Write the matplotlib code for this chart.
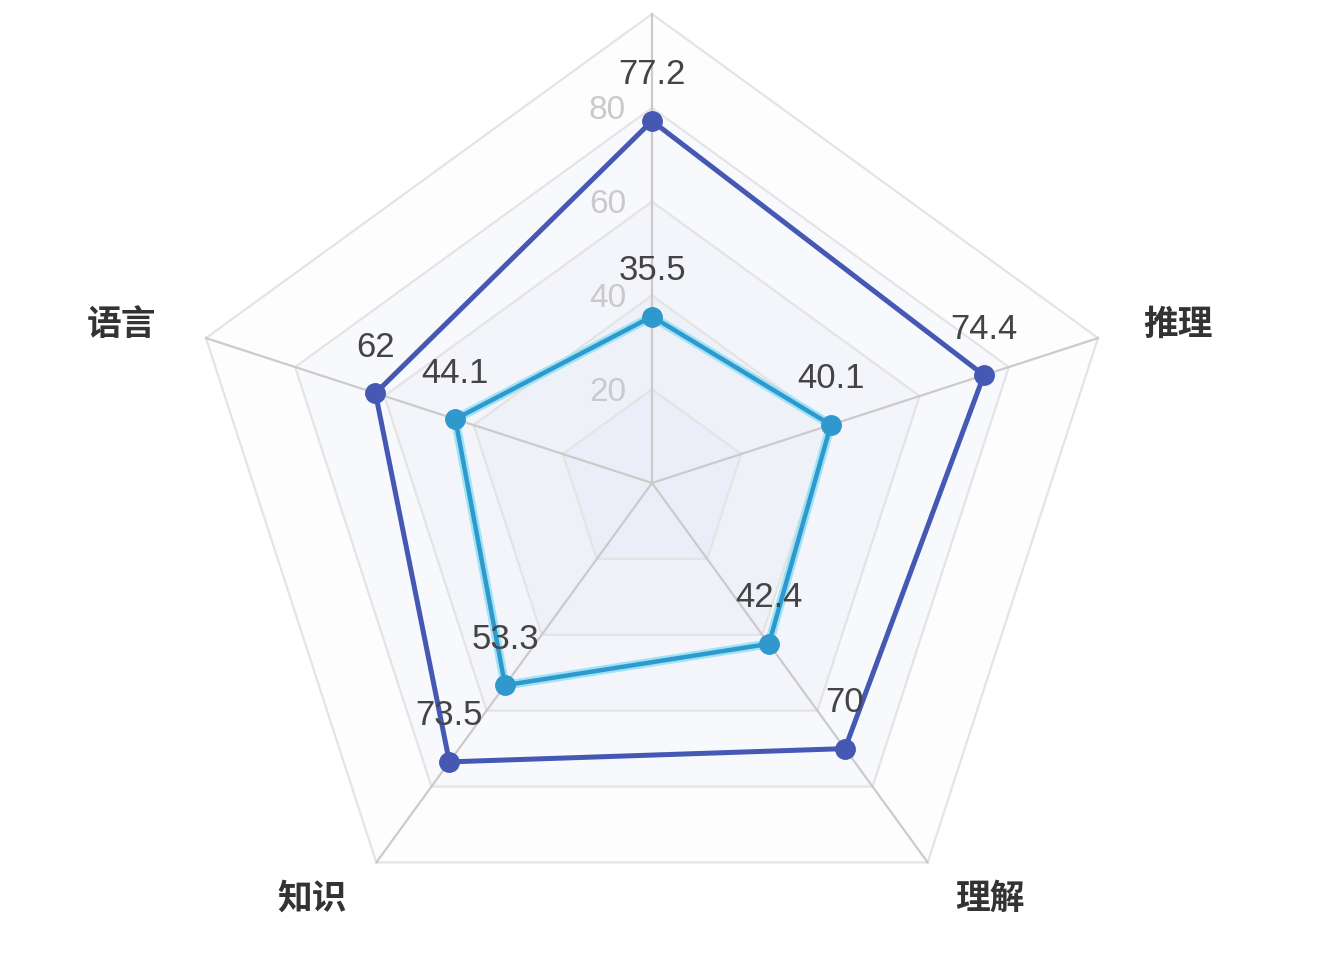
import numpy as np
import matplotlib
matplotlib.use("Agg")
import matplotlib.pyplot as plt

# categories, clockwise from the top axis (top label is cut off in the source)
categories = ["", "推理", "理解", "知识", "语言"]
series_a = [77.2, 74.4, 70, 73.5, 62]
series_b = [35.5, 40.1, 42.4, 53.3, 44.1]
ring_ticks = [20, 40, 60, 80, 100]
tick_labels = ["20", "40", "60", "80"]
max_value = 100

# layout in pixel units
CX, CY = 652, 483
R = 469
W, H = 1334, 968

angles = np.deg2rad(90 - 72 * np.arange(len(categories)))


def to_xy(values):
    """convert radar values to (x, y) in pixel coords (y downwards)"""
    v = np.asarray(values, dtype=float) / max_value * R
    return CX + v * np.cos(angles), CY - v * np.sin(angles)


fig = plt.figure(figsize=(W / 100, H / 100), dpi=100)
ax = fig.add_axes([0, 0, 1, 1])
ax.set_xlim(0, W)
ax.set_ylim(H, 0)
ax.set_aspect("equal")
ax.axis("off")

# split area shading, outer to inner
fills = ["#fdfdfe", "#f8f9fd", "#f3f5fb", "#eff1f9", "#ebeef8"]
for lvl, col in zip(ring_ticks[::-1], fills):
    x, y = to_xy([lvl] * len(categories))
    ax.fill(x, y, color=col, zorder=1, lw=0)

# ring lines
for lvl in ring_ticks:
    x, y = to_xy([lvl] * len(categories))
    ax.plot(np.append(x, x[0]), np.append(y, y[0]), color="#e4e4e4",
            lw=1.6, zorder=2)

# spokes
ox, oy = to_xy([max_value] * len(categories))
for xe, ye in zip(ox, oy):
    ax.plot([CX, xe], [CY, ye], color="#cbcbcb", lw=1.6, zorder=2)

# ring tick labels along the top axis
for lvl, lab in zip(ring_ticks[:-1], tick_labels):
    ax.text(CX - 26, CY - lvl / max_value * R + 3, lab, ha="right",
            va="center", fontsize=24, color="#cacaca",
            family=["Liberation Sans", "DejaVu Sans"], zorder=3)

# series
xb, yb = to_xy(series_b)
ax.plot(np.append(xb, xb[0]), np.append(yb, yb[0]), color="#9fe3f7",
        lw=6.5, zorder=4, solid_joinstyle="miter")
ax.plot(np.append(xb, xb[0]), np.append(yb, yb[0]), color="#2f98cc",
        lw=3.2, zorder=5, marker="o", markersize=14, markevery=range(5),
        solid_joinstyle="miter")

xa, ya = to_xy(series_a)
ax.plot(np.append(xa, xa[0]), np.append(ya, ya[0]), color="#4558b4",
        lw=3.6, zorder=6, marker="o", markersize=14, markevery=range(5),
        solid_joinstyle="miter")

# value labels
for xs, ys, vals in [(xa, ya, series_a), (xb, yb, series_b)]:
    for x, y, v in zip(xs, ys, vals):
        ax.annotate(f"{v:g}", (x, y), xytext=(0, 46),
                    textcoords="offset pixels", ha="center", va="center",
                    fontsize=25, color="#444444",
                    family=["Liberation Sans", "DejaVu Sans"], zorder=7)

# category labels
label_offsets = [(0, 50), (80, 14), (62, -36), (-64, -36), (-84, 14)]
for cat, x, y, off in zip(categories, ox, oy, label_offsets):
    if cat:
        ax.annotate(cat, (x, y), xytext=off, textcoords="offset pixels",
                    ha="center", va="center", fontsize=25, color="#333333",
                    fontweight="bold",
                    family=["Noto Sans CJK SC", "DejaVu Sans"])

fig.savefig("out.png", dpi=100, facecolor="white")
